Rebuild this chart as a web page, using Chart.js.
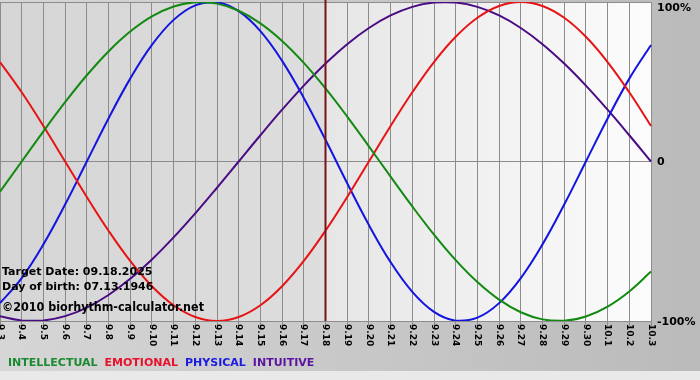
<!DOCTYPE html>
<html>
<head>
<meta charset="utf-8">
<script src="https://cdn.jsdelivr.net/npm/chart.js@4/dist/chart.umd.min.js"></script>
<style>
  html, body { margin: 0; padding: 0; background: #c8c8c8; }
  canvas { display: block; }
</style>
</head>
<body>
<canvas id="chart" width="700" height="380"></canvas>
<script>
// days shown on the x axis
const dayLabels = ["9.3", "9.4", "9.5", "9.6", "9.7", "9.8", "9.9", "9.10", "9.11", "9.12",
  "9.13", "9.14", "9.15", "9.16", "9.17", "9.18", "9.19", "9.20", "9.21", "9.22",
  "9.23", "9.24", "9.25", "9.26", "9.27", "9.28", "9.29", "9.30", "10.1", "10.2", "10.3"];

const intellectual = [-0.1893, 0, 0.1893, 0.3717, 0.5406, 0.6901, 0.8146, 0.9096, 0.9718, 0.9989,
  0.9898, 0.9450, 0.8660, 0.7557, 0.6182, 0.4582, 0.2817, 0.0951, -0.0951, -0.2817,
  -0.4582, -0.6182, -0.7557, -0.8660, -0.9450, -0.9898, -0.9989, -0.9718, -0.9096, -0.8146, -0.6901];

const emotional = [0.6235, 0.4339, 0.2225, 0, -0.2225, -0.4339, -0.6235, -0.7818, -0.9010, -0.9749,
  -1, -0.9749, -0.9010, -0.7818, -0.6235, -0.4339, -0.2225, 0, 0.2225, 0.4339,
  0.6235, 0.7818, 0.9010, 0.9749, 1, 0.9749, 0.9010, 0.7818, 0.6235, 0.4339, 0.2225];

const physical = [-0.8879, -0.7308, -0.5196, -0.2698, 0, 0.2698, 0.5196, 0.7308, 0.8879, 0.9791,
  0.9977, 0.9423, 0.8170, 0.6311, 0.3984, 0.1362, -0.1362, -0.3984, -0.6311, -0.8170,
  -0.9423, -0.9977, -0.9791, -0.8879, -0.7308, -0.5196, -0.2698, 0, 0.2698, 0.5196, 0.7308];

const intuitive = [-0.9694, -0.9966, -0.9966, -0.9694, -0.9158, -0.8372, -0.7357, -0.6142, -0.4759, -0.3247,
  -0.1646, 0, 0.1646, 0.3247, 0.4759, 0.6142, 0.7357, 0.8372, 0.9158, 0.9694,
  0.9966, 0.9966, 0.9694, 0.9158, 0.8372, 0.7357, 0.6142, 0.4759, 0.3247, 0.1646, 0];

const yTickValues = [1, 0, -1];
const yTickLabels = ["100%", "0", "-100%"];
const targetDay = "9.18";
const infoLines = ["Target Date: 09.18.2025", "Day of birth: 07.13.1946"];
const copyright = "\u00a92010 biorhythm-calculator.net";

const FONT = "'DejaVu Sans', Verdana, sans-serif";

/*
    Backgrounds, target line, axis labels and the text legend
*/
const decorations = {
    id: "decorations",
    beforeDraw(chart) {
        const ctx = chart.ctx;
        const area = chart.chartArea;
        const xPos = chart.scales.x.getPixelForValue(dayLabels.indexOf(targetDay));
        ctx.save();
        let g = ctx.createLinearGradient(0, 0, chart.width, 0);
        g.addColorStop(0, "#d6d6d6");
        g.addColorStop(1, "#bababa");
        ctx.fillStyle = g;
        ctx.fillRect(0, 0, chart.width, chart.height);
        ctx.fillStyle = "#e9e9e9";
        ctx.fillRect(0, 371, chart.width, chart.height - 371);

        g = ctx.createLinearGradient(area.left, 0, xPos, 0);
        g.addColorStop(0, "#d5d5d5");
        g.addColorStop(1, "#dedede");
        ctx.fillStyle = g;
        ctx.fillRect(area.left, area.top, xPos - area.left, area.bottom - area.top);
        g = ctx.createLinearGradient(xPos, 0, area.right, 0);
        g.addColorStop(0, "#e6e6e6");
        g.addColorStop(1, "#fcfcfc");
        ctx.fillStyle = g;
        ctx.fillRect(xPos, area.top, area.right - xPos, area.bottom - area.top);
        ctx.restore();
    },
    afterDatasetsDraw(chart) {
        const ctx = chart.ctx;
        const area = chart.chartArea;
        const xScale = chart.scales.x;
        const yScale = chart.scales.y;
        ctx.save();

        // target day line
        const xPos = xScale.getPixelForValue(dayLabels.indexOf(targetDay));
        ctx.strokeStyle = "#7a1414";
        ctx.lineWidth = 2;
        ctx.beginPath();
        ctx.moveTo(xPos, 0);
        ctx.lineTo(xPos, area.bottom);
        ctx.stroke();

        // info text
        ctx.fillStyle = "#000";
        ctx.textAlign = "left";
        ctx.textBaseline = "alphabetic";
        ctx.font = "bold 11px " + FONT;
        ctx.fillText(infoLines[0], 2, 275);
        ctx.fillText(infoLines[1], 2, 290);
        ctx.font = "bold 12px " + FONT;
        ctx.fillText(copyright, 2, 311, 202);

        // y labels on the right, top one kept inside the canvas
        ctx.textBaseline = "middle";
        ctx.font = "bold 11px " + FONT;
        yTickValues.forEach((v, i) => {
            const y = Math.max(yScale.getPixelForValue(v) + 1, 8);
            ctx.fillText(yTickLabels[i], area.right + 6, y);
        });

        // day labels, rotated clockwise
        ctx.font = "bold 9px " + FONT;
        dayLabels.forEach((label, i) => {
            ctx.save();
            ctx.translate(xScale.getPixelForValue(i), area.bottom + 3);
            ctx.rotate(Math.PI / 2);
            ctx.fillText(label, 0, 0);
            ctx.restore();
        });

        // legend words
        ctx.font = "bold 11px " + FONT;
        ctx.textBaseline = "alphabetic";
        let x = 8;
        chart.data.datasets.forEach(ds => {
            ctx.fillStyle = ds.legendColor;
            ctx.fillText(ds.label, x, 366);
            x += ctx.measureText(ds.label).width + 7;
        });
        ctx.restore();
    }
};

function series(label, data, color, legendColor) {
    return {
        label: label,
        data: data,
        borderColor: color,
        legendColor: legendColor,
        borderWidth: 2,
        pointRadius: 0,
        tension: 0.4,
        fill: false
    };
}

new Chart(document.getElementById("chart"), {
    type: "line",
    data: {
        labels: dayLabels,
        datasets: [
            series("INTELLECTUAL", intellectual, "#128a12", "#1a8a30"),
            series("EMOTIONAL", emotional, "#e61414", "#e8102a"),
            series("PHYSICAL", physical, "#1414e0", "#1a1ae0"),
            series("INTUITIVE", intuitive, "#4a0c84", "#5a14a0")
        ]
    },
    options: {
        responsive: false,
        animation: false,
        devicePixelRatio: 1,
        layout: { padding: { top: 2, left: 0, right: 0, bottom: 0 } },
        plugins: {
            legend: { display: false },
            tooltip: { enabled: false }
        },
        scales: {
            x: {
                offset: false,
                grid: { color: "#8c8c8c", lineWidth: 1, tickLength: 5 },
                border: { color: "#8c8c8c", width: 1 },
                ticks: { display: false },
                afterFit(scale) {
                    scale.height = 59;
                    scale.paddingLeft = 0;
                    scale.paddingRight = 0;
                }
            },
            y: {
                position: "right",
                min: -1,
                max: 1,
                grid: { color: "#8c8c8c", lineWidth: 1, drawTicks: false },
                border: { color: "#8c8c8c", width: 1 },
                ticks: { stepSize: 1, display: false },
                afterFit(scale) {
                    scale.width = 49;
                    scale.paddingTop = 0;
                    scale.paddingBottom = 0;
                }
            }
        }
    },
    plugins: [decorations]
});
</script>
</body>
</html>
